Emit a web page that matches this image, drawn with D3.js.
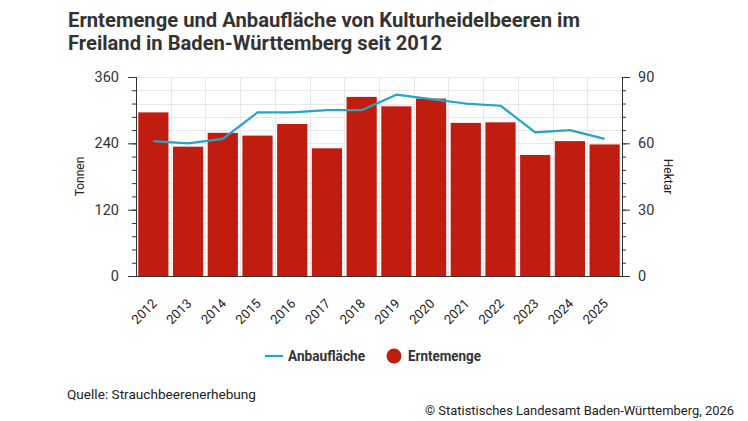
<!DOCTYPE html>
<html>
<head>
<meta charset="utf-8">
<script src="https://cdn.jsdelivr.net/npm/d3@7"></script>
<style>
body { margin: 0; background: #fff; }
svg { font-family: Roboto, "Noto Sans", sans-serif; }
</style>
</head>
<body>
<svg id="chart" width="748" height="421"></svg>
<script>
const years = ["2012","2013","2014","2015","2016","2017","2018","2019","2020","2021","2022","2023","2024","2025"];
const erntemenge = [296, 234, 259, 254, 275, 231, 324, 307, 321, 277, 278, 219, 244, 238];
const anbauflaeche = [61, 60, 62, 74, 74, 75, 75, 82, 80, 78, 77, 65, 66, 62];
const leftTicks = [0, 120, 240, 360];
const rightTicks = [0, 30, 60, 90];

const buildVis = (svg_name) => {
    let chart = d3.select(svg_name);
    let margin = { left: 136, right: 126, top: 77, bottom: 145 };
    let chart_width = 748, chart_height = 421;
    let plotBottom = chart_height - margin.bottom;

    let x = d3.scaleBand()
                .domain(years)
                .range([margin.left, chart_width - margin.right])
                .paddingInner(0.13)
                .paddingOuter(0.065);
    let yL = d3.scaleLinear().domain([0, 360]).range([plotBottom, margin.top]);
    let yR = d3.scaleLinear().domain([0, 90]).range([plotBottom, margin.top]);

    // grid
    let grid = chart.append("g").attr("stroke", "#e8e8e8").attr("stroke-width", 1);
    let step = x.step();
    let x0 = margin.left;
    for (let i = 0; i <= years.length; i++) {
        let gx = Math.round(x0 + i * step) + 0.5;
        grid.append("line").attr("x1", gx).attr("x2", gx).attr("y1", margin.top).attr("y2", plotBottom);
    }
    d3.range(0, 361, 24).forEach((v) => {
        let gy = Math.round(yL(v)) + 0.5;
        grid.append("line").attr("x1", margin.left).attr("x2", chart_width - margin.right).attr("y1", gy).attr("y2", gy);
    });

    // bars
    chart.append("g").selectAll("rect")
        .data(erntemenge)
        .enter().append("rect")
        .attr("x", (d, i) => x(years[i]))
        .attr("y", (d) => yL(d))
        .attr("width", x.bandwidth())
        .attr("height", (d) => plotBottom - yL(d))
        .attr("fill", "#c11c10");

    // line
    let line = d3.line()
        .x((d, i) => x(years[i]) + x.bandwidth() / 2)
        .y((d) => yR(d));
    chart.append("path")
        .datum(anbauflaeche)
        .attr("d", line)
        .attr("fill", "none")
        .attr("stroke", "#22a6c6")
        .attr("stroke-width", 2.2)
        .attr("stroke-linejoin", "round");

    // axes
    let minorL = chart.append("g").attr("transform", "translate(" + margin.left + ",0)")
        .call(d3.axisLeft(yL).tickValues(d3.range(0, 361, 24)).tickSize(4).tickFormat(""));
    minorL.select(".domain").remove();
    let leftAxis = chart.append("g").attr("transform", "translate(" + margin.left + ",0)")
        .call(d3.axisLeft(yL).tickValues(leftTicks).tickSize(8).tickPadding(9));
    let minorR = chart.append("g").attr("transform", "translate(" + (chart_width - margin.right) + ",0)")
        .call(d3.axisRight(yR).tickValues(d3.range(0, 91, 6)).tickSize(4).tickFormat(""));
    minorR.select(".domain").remove();
    let rightAxis = chart.append("g").attr("transform", "translate(" + (chart_width - margin.right) + ",0)")
        .call(d3.axisRight(yR).tickValues(rightTicks).tickSize(8).tickPadding(8));
    [minorL, leftAxis, minorR, rightAxis].forEach((g) => {
        g.selectAll("line").attr("stroke", "#333");
        g.selectAll(".domain").attr("stroke", "#333").attr("d", null);
    });
    leftAxis.select(".domain").attr("d", "M0.5," + margin.top + "V" + plotBottom);
    rightAxis.select(".domain").attr("d", "M0.5," + margin.top + "V" + plotBottom);
    [leftAxis, rightAxis].forEach((g) => {
        g.selectAll("text").attr("font-size", 14.5).attr("fill", "#333").attr("font-family", "Roboto");
    });

    let xAxis = chart.append("g").attr("transform", "translate(0," + plotBottom + ")")
        .call(d3.axisBottom(x).tickSize(0).tickPadding(10));
    xAxis.select(".domain").attr("stroke", "#333").attr("d", "M" + margin.left + ",0.5H" + (chart_width - margin.right));
    xAxis.selectAll("text")
        .attr("font-size", 13)
        .attr("font-family", "Roboto")
        .attr("fill", "#222")
        .attr("text-anchor", "end")
        .attr("dy", "0.35em")
        .attr("transform", "translate(-6,18) rotate(-45)");

    // axis titles
    chart.append("text")
        .attr("transform", "translate(84," + ((margin.top + plotBottom) / 2) + ") rotate(-90)")
        .attr("text-anchor", "middle")
        .attr("font-size", 12)
        .attr("fill", "#222")
        .text("Tonnen");
    chart.append("text")
        .attr("transform", "translate(664," + ((margin.top + plotBottom) / 2) + ") rotate(90)")
        .attr("text-anchor", "middle")
        .attr("font-size", 12)
        .attr("fill", "#222")
        .text("Hektar");

    // title
    let title = chart.append("g").attr("font-weight", "bold").attr("font-size", 20).attr("fill", "#333");
    title.append("text").attr("x", 68).attr("y", 27)
        .attr("textLength", 512).attr("lengthAdjust", "spacingAndGlyphs")
        .text("Erntemenge und Anbaufläche von Kulturheidelbeeren im");
    title.append("text").attr("x", 68).attr("y", 50)
        .attr("textLength", 374).attr("lengthAdjust", "spacingAndGlyphs")
        .text("Freiland in Baden-Württemberg seit 2012");

    // legend
    let legend = chart.append("g").attr("font-weight", "bold").attr("font-size", 15).attr("fill", "#333");
    legend.append("line").attr("x1", 265).attr("x2", 283).attr("y1", 356).attr("y2", 356)
        .attr("stroke", "#22a6c6").attr("stroke-width", 2.2);
    legend.append("text").attr("x", 288).attr("y", 361)
        .attr("textLength", 77).attr("lengthAdjust", "spacingAndGlyphs").text("Anbaufläche");
    legend.append("circle").attr("cx", 394).attr("cy", 356).attr("r", 7.5).attr("fill", "#c11c10");
    legend.append("text").attr("x", 408).attr("y", 361)
        .attr("textLength", 73).attr("lengthAdjust", "spacingAndGlyphs").text("Erntemenge");

    // footer
    chart.append("text").attr("x", 67).attr("y", 399).attr("font-size", 13).attr("fill", "#222")
        .attr("textLength", 189).attr("lengthAdjust", "spacingAndGlyphs")
        .text("Quelle: Strauchbeerenerhebung");
    chart.append("text").attr("x", 425).attr("y", 415).attr("font-size", 13).attr("fill", "#222")
        .attr("textLength", 309).attr("lengthAdjust", "spacingAndGlyphs")
        .text("© Statistisches Landesamt Baden-Württemberg, 2026");
}

buildVis("#chart");
</script>
</body>
</html>
